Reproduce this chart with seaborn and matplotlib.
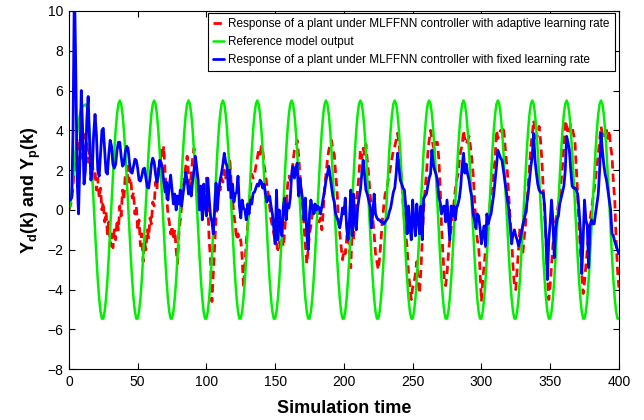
import numpy as np
import pandas as pd
import matplotlib
matplotlib.use("Agg")
import matplotlib.pyplot as plt
import seaborn as sns

# ---------------- data ----------------
time_steps = list(range(0, 401))

series_labels = [
    "Response of a plant under MLFFNN controller with adaptive learning rate",
    "Reference model output",
    "Response of a plant under MLFFNN controller with fixed learning rate",
]

x_ticks = [0, 50, 100, 150, 200, 250, 300, 350, 400]
y_ticks = [-8, -6, -4, -2, 0, 2, 4, 6, 8, 10]

reference_output = [
    0.0, 0.3, 0.9, 1.6, 2.4, 3.1, 3.8, 4.4, 4.8, 5.1, 5.2, 5.25, 5.3, 5.2,
    4.82, 4.01, 2.95, 1.70, 0.35, -1.03, -2.34, -3.51, -4.45, -5.11, -5.46, -5.46, -5.11, -4.45, -3.51, -2.34, -1.03, 0.35, 1.70, 2.95, 4.01, 4.82, 5.33,
    5.50, 5.33, 4.82, 4.01, 2.95, 1.70, 0.35, -1.03, -2.34, -3.51, -4.45, -5.11, -5.46, -5.46, -5.11, -4.45, -3.51, -2.34, -1.03, 0.35, 1.70, 2.95, 4.01, 4.82, 5.33,
    5.50, 5.33, 4.82, 4.01, 2.95, 1.70, 0.35, -1.03, -2.34, -3.51, -4.45, -5.11, -5.46, -5.46, -5.11, -4.45, -3.51, -2.34, -1.03, 0.35, 1.70, 2.95, 4.01, 4.82, 5.33,
    5.50, 5.33, 4.82, 4.01, 2.95, 1.70, 0.35, -1.03, -2.34, -3.51, -4.45, -5.11, -5.46, -5.46, -5.11, -4.45, -3.51, -2.34, -1.03, 0.35, 1.70, 2.95, 4.01, 4.82, 5.33,
    5.50, 5.33, 4.82, 4.01, 2.95, 1.70, 0.35, -1.03, -2.34, -3.51, -4.45, -5.11, -5.46, -5.46, -5.11, -4.45, -3.51, -2.34, -1.03, 0.35, 1.70, 2.95, 4.01, 4.82, 5.33,
    5.50, 5.33, 4.82, 4.01, 2.95, 1.70, 0.35, -1.03, -2.34, -3.51, -4.45, -5.11, -5.46, -5.46, -5.11, -4.45, -3.51, -2.34, -1.03, 0.35, 1.70, 2.95, 4.01, 4.82, 5.33,
    5.50, 5.33, 4.82, 4.01, 2.95, 1.70, 0.35, -1.03, -2.34, -3.51, -4.45, -5.11, -5.46, -5.46, -5.11, -4.45, -3.51, -2.34, -1.03, 0.35, 1.70, 2.95, 4.01, 4.82, 5.33,
    5.50, 5.33, 4.82, 4.01, 2.95, 1.70, 0.35, -1.03, -2.34, -3.51, -4.45, -5.11, -5.46, -5.46, -5.11, -4.45, -3.51, -2.34, -1.03, 0.35, 1.70, 2.95, 4.01, 4.82, 5.33,
    5.50, 5.33, 4.82, 4.01, 2.95, 1.70, 0.35, -1.03, -2.34, -3.51, -4.45, -5.11, -5.46, -5.46, -5.11, -4.45, -3.51, -2.34, -1.03, 0.35, 1.70, 2.95, 4.01, 4.82, 5.33,
    5.50, 5.33, 4.82, 4.01, 2.95, 1.70, 0.35, -1.03, -2.34, -3.51, -4.45, -5.11, -5.46, -5.46, -5.11, -4.45, -3.51, -2.34, -1.03, 0.35, 1.70, 2.95, 4.01, 4.82, 5.33,
    5.50, 5.33, 4.82, 4.01, 2.95, 1.70, 0.35, -1.03, -2.34, -3.51, -4.45, -5.11, -5.46, -5.46, -5.11, -4.45, -3.51, -2.34, -1.03, 0.35, 1.70, 2.95, 4.01, 4.82, 5.33,
    5.50, 5.33, 4.82, 4.01, 2.95, 1.70, 0.35, -1.03, -2.34, -3.51, -4.45, -5.11, -5.46, -5.46, -5.11, -4.45, -3.51, -2.34, -1.03, 0.35, 1.70, 2.95, 4.01, 4.82, 5.33,
    5.50, 5.33, 4.82, 4.01, 2.95, 1.70, 0.35, -1.03, -2.34, -3.51, -4.45, -5.11, -5.46, -5.46, -5.11, -4.45, -3.51, -2.34, -1.03, 0.35, 1.70, 2.95, 4.01, 4.82, 5.33,
    5.50, 5.33, 4.82, 4.01, 2.95, 1.70, 0.35, -1.03, -2.34, -3.51, -4.45, -5.11, -5.46, -5.46, -5.11, -4.45, -3.51, -2.34, -1.03, 0.35, 1.70, 2.95, 4.01, 4.82, 5.33,
    5.50, 5.33, 4.82, 4.01, 2.95, 1.70, 0.35, -1.03, -2.34, -3.51, -4.45, -5.11, -5.46, -5.46, -5.11, -4.45, -3.51, -2.34, -1.03, 0.35, 1.70, 2.95, 4.01, 4.82, 5.33,
    5.50, 5.33, 4.82, 4.01, 2.95, 1.70, 0.35, -1.03, -2.34, -3.51, -4.45, -5.11, -5.46, -5.46,
]

adaptive_response = [
    0.0, 0.2, 0.5, 1.2, 2.2, 2.8, 2.3, 3.0, 3.6, 2.6,          # 0-9
    3.4, 3.8, 2.8, 3.5, 2.4, 3.0, 1.8, 2.4, 1.6, 2.0,          # 10-19
    1.0, 1.6, 0.6, 1.1, 0.0, 0.4, -0.6, -0.1, -1.2, -0.6,      # 20-29
    -1.8, -1.2, -1.9, -1.0, -1.5, -0.5, -1.0, 0.2, -0.3, 1.0,  # 30-39
    0.5, 1.8, 1.2, 2.2, 1.4, 1.6, 0.6, 0.9, -0.2, 0.2,         # 40-49
    -1.0, -0.5, -1.8, -1.2, -2.6, -1.6, -2.0, -1.0, -1.4, -0.4,  # 50-59
    -0.7, 0.4, 0.2, 1.4, 1.0, 2.2, 1.8, 3.0, 2.6, 3.2,         # 60-69
    1.8, 0.8, -0.2, -0.6, -1.2, -0.8, -1.5, -1.0, -2.0, -2.7,  # 70-79
    -1.2, -0.5, 0.2, 1.0, 1.6, 2.2, 2.7, 1.8, 1.2, 1.8,        # 80-89
    2.6, 3.1, 2.4, 1.5, 1.0, 0.4, 0.8, 0.2, 0.6, 1.2,          # 90-99
    1.6, 0.4, -1.5, -2.5, -4.6, -3.2, -1.8, -0.4, 0.5, 1.2,    # 100-109
    1.0, 1.6, 1.4, 2.0, 1.6, 2.2, 1.8, 2.6, 1.4, 0.5,          # 110-119
    -0.2, -0.8, -1.5, -1.2, -1.6, -1.5, -2.4, -3.9, -2.8, -1.6,  # 120-129
    -0.8, 0.2, 1.0, 1.8, 1.6, 1.8, 2.2, 2.6, 3.0, 2.8,         # 130-139
    3.2, 3.0, 2.2, 1.8, 1.2, 0.8, 0.2, -0.5, -0.8, -1.2,       # 140-149
    -1.5, -1.7, -2.0, -1.6, -1.9, -1.5, -1.85, -1.0, 0.0, 1.2,  # 150-159
    1.7, 1.5, 1.8, 2.4, 3.0, 3.2, 3.5, 2.8, 1.8, 1.0,          # 160-169
    0.2, -0.8, -1.8, -2.7, -2.0, -1.2, -0.8, -0.2, 0.2, -0.3,  # 170-179
    0.0, -0.2, -0.6, -0.4, -1.0, 0.0, 1.2, 1.8, 2.5, 3.0,      # 180-189
    3.3, 3.5, 3.0, 2.8, 1.8, 1.0, -0.5, -1.2, -1.85, -2.5,     # 190-199
    -2.0, -2.2, -1.5, -0.5, -2.0, -2.9, -1.0, -1.5, -0.2, 0.5,  # 200-209
    1.0, 1.8, 3.0, 2.6, 3.1, 2.8, 3.3, 2.5, 1.8, 0.8,          # 210-219
    0.2, -0.4, -1.2, -2.2, -2.6, -3.0, -2.4, -1.5, -0.5, 0.2,  # 220-229
    0.8, 1.0, 1.4, 1.8, 2.2, 2.6, 3.0, 3.2, 3.5, 3.85,         # 230-239
    3.4, 2.6, 1.5, 0.4, -0.5, -1.2, -1.9, -3.2, -3.8, -4.5,    # 240-249
    -3.9, -3.7, -3.2, -2.6, -3.6, -4.2, -3.0, -1.5, 0.0, 1.0,  # 250-259
    1.8, 2.8, 3.5, 4.0, 3.6, 3.2, 3.0, 3.4, 3.4, 2.6,          # 260-269
    1.2, -0.8, -2.2, -3.5, -3.8, -3.2, -2.2, -1.5, -0.9, -0.2,  # 270-279
    0.3, 1.0, 1.5, 1.8, 2.5, 3.0, 3.2, 4.0, 3.5, 3.3,          # 280-289
    3.5, 3.7, 3.2, 2.6, 1.8, 0.6, -0.8, -1.5, -1.85, -3.0,     # 290-299
    -4.6, -3.5, -2.8, -2.0, -1.5, -0.8, 0.0, 0.8, 1.4, 2.0,    # 300-309
    2.5, 4.0, 3.6, 3.8, 4.0, 3.9, 4.2, 3.4, 2.6, 1.8,          # 310-319
    0.6, -0.5, -1.5, -2.8, -3.8, -4.0, -3.0, -2.0, -0.9, -1.6,  # 320-329
    -2.3, -1.5, -0.8, 0.2, 1.2, 2.2, 3.2, 3.8, 4.5, 4.0,       # 330-339
    3.6, 3.8, 4.2, 3.5, 2.5, 1.0, -0.2, -1.5, -3.2, -4.5,      # 340-349
    -3.8, -2.8, -1.8, -1.0, -0.6, -0.2, 0.3, 0.8, 1.5, 2.2,    # 350-359
    3.3, 4.5, 4.2, 3.8, 4.0, 4.3, 4.2, 3.8, 3.5, 2.2,          # 360-369
    0.8, -0.8, -2.0, -3.2, -4.2, -3.6, -2.8, -2.0, -1.2, -0.5,  # 370-379
    0.0, 0.5, 1.0, 1.6, 2.2, 2.8, 3.5, 4.2, 3.8, 3.6,          # 380-389
    3.8, 4.0, 3.6, 4.0, 3.2, 2.7, 1.4, 0.5, -1.5, -3.0,        # 390-399
    -3.9,                                                      # 400
]

fixed_response = [
    0.5, 0.5, 0.6, 4.0, 11.5, 7.0, 1.5, -0.2, 2.5, 6.0,        # 0-9
    4.0, 1.3, 2.0, 4.5, 5.7, 3.5, 1.5, 2.0, 3.8, 4.8,          # 10-19
    3.8, 2.0, 1.7, 2.8, 4.0, 4.1, 3.0, 1.9, 1.8, 2.8,          # 20-29
    3.5, 3.2, 2.3, 2.1, 2.3, 3.0, 3.4, 3.4, 2.7, 2.2,          # 30-39
    2.3, 2.9, 3.2, 3.1, 2.4, 1.9, 1.85, 2.2, 2.55, 2.5,        # 40-49
    2.1, 1.5, 1.45, 1.7, 2.05, 2.1, 1.6, 1.15, 1.1, 1.6,       # 50-59
    2.3, 2.6, 2.4, 1.8, 1.4, 1.7, 2.5, 2.4, 2.1, 1.4,          # 60-69
    0.9, 1.4, 0.5, 1.2, 1.75, 1.0, 0.3, 0.8, 0.0, 0.7,         # 70-79
    0.3, 1.0, 0.2, 0.8, 1.3, 1.9, 1.5, 0.8, 1.2, 0.7,          # 80-89
    1.5, 2.0, 2.7, 2.1, 1.5, 0.0, 1.2, -0.5, 1.3, 0.2,         # 90-99
    -0.3, 1.6, 0.6, -0.3, -0.6, -1.2, 0.0, 1.35, 0.0, 1.0,     # 100-109
    1.5, 1.85, 2.3, 2.85, 2.4, 2.2, 1.0, 2.0, 0.6, 1.3,        # 110-119
    0.4, 0.8, 0.9, 1.7, 0.2, -0.4, 0.5, 0.1, 0.0, -0.5,        # 120-129
    0.3, -0.2, 0.5, 0.3, 0.85, 0.9, 1.1, 1.3, 1.2, 1.5,        # 130-139
    1.4, 1.1, 1.3, 0.8, 0.4, 0.6, 0.7, 0.2, -0.2, -0.9,        # 140-149
    -1.7, 1.0, -1.5, 0.0, -1.0, -1.3, 0.2, 0.6, -0.5, 0.3,     # 150-159
    0.1, 0.6, 1.8, 2.2, 1.6, 2.0, 2.35, 0.7, 1.6, 1.0,         # 160-169
    0.5, -0.5, 0.6, -1.2, -2.0, -0.2, 0.5, 0.1, -0.2, 0.3,     # 170-179
    0.0, 0.2, 0.1, -0.2, 0.2, 0.6, 1.0, 1.5, 1.8, 2.2,         # 180-189
    1.7, 1.2, 0.67, 0.4, -0.2, -0.4, -0.6, -0.9, -0.5, 0.1,    # 190-199
    -0.2, 0.6, -0.9, -1.5, -0.6, 1.0, -1.3, 0.8, -0.6, -1.0,   # 200-209
    0.1, 0.6, 1.0, 1.8, 2.5, 1.8, 1.0, 0.8, 0.5, 0.2,          # 210-219
    -0.9, -0.2, 0.8, -0.2, -0.4, -0.5, -0.5, -0.6, -0.6, -0.7,  # 220-229
    -0.6, -0.5, -0.4, -0.1, 0.1, 0.5, 0.9, 1.1, 1.8, 2.85,     # 230-239
    2.2, 1.5, 1.3, 1.1, 1.0, 0.2, -1.2, 0.2, -0.8, -1.5,       # 240-249
    0.5, -0.6, -1.3, 0.3, -0.5, -1.2, 0.2, -1.5, 0.6, 0.7,     # 250-259
    0.8, 1.2, 1.6, 1.8, 3.0, 2.3, 2.0, 1.8, 1.5, 0.67,         # 260-269
    0.4, -0.2, 0.15, 0.2, -0.6, 0.5, -0.5, -1.5, 0.2, -0.3,    # 270-279
    0.2, -0.5, 0.1, 0.3, 0.6, 1.2, 2.2, 2.85, 1.85, 2.3,       # 280-289
    1.8, 1.5, 1.0, 0.67, -0.2, -0.5, -0.9, -0.2, -0.3, -0.9,   # 290-299
    -1.7, -1.2, -0.8, -1.8, -0.2, -0.7, -0.4, -0.2, 0.3, 0.8,  # 300-309
    1.5, 2.2, 3.0, 2.8, 2.6, 2.5, 2.0, 1.5, 1.0, 0.5,          # 310-319
    0.0, -0.9, -1.7, -1.2, -1.0, -1.3, -1.5, -1.8, -1.6, -1.2,  # 320-329
    -0.8, -0.5, -0.2, 0.3, 0.8, 1.5, 2.2, 2.7, 3.85, 2.5,      # 330-339
    1.85, 1.3, 1.0, 0.9, 0.85, 0.85, 0.2, -1.5, -3.5, -1.5,    # 340-349
    -0.7, 0.5, -0.5, -2.4, -1.0, -0.5, -0.3, 0.3, 0.6, 0.9,    # 350-359
    1.2, 2.0, 3.7, 3.4, 3.0, 2.0, 1.2, 1.1, 1.1, 1.0,          # 360-369
    0.8, 0.0, -1.0, -3.2, -1.5, 0.5, -0.5, -0.8, -2.9, -0.8,   # 370-379
    -0.5, -0.7, -0.7, -0.2, 0.3, 0.8, 2.0, 3.85, 3.0, 2.3,     # 380-389
    1.8, 1.5, 1.0, 0.5, 0.0, -1.2, -1.3, -1.6, -1.8, -2.0,     # 390-399
    -2.2,                                                      # 400
]

# ---------------- styling ----------------
sns.set_theme(style="white")
plt.rcParams["font.family"] = ["Liberation Sans", "DejaVu Sans"]
plt.rcParams["mathtext.fontset"] = "custom"
plt.rcParams["mathtext.rm"] = "Liberation Sans:bold"
plt.rcParams["mathtext.it"] = "Liberation Sans:bold"
plt.rcParams["mathtext.bf"] = "Liberation Sans:bold"
plt.rcParams["axes.unicode_minus"] = True
plt.rcParams["text.color"] = "black"
plt.rcParams["axes.labelcolor"] = "black"
plt.rcParams["xtick.color"] = "black"
plt.rcParams["ytick.color"] = "black"

df = pd.DataFrame({
    "time": time_steps,
    "adaptive": adaptive_response,
    "reference": reference_output,
    "fixed": fixed_response,
})

fig, ax = plt.subplots(figsize=(6.44, 4.2), dpi=100)
fig.patch.set_facecolor("white")
fig.subplots_adjust(left=0.107, right=0.961, top=0.974, bottom=0.121)

sns.lineplot(data=df, x="time", y="adaptive", ax=ax, color="#ff0000",
             lw=2.0, linestyle="--", label=series_labels[0])
sns.lineplot(data=df, x="time", y="reference", ax=ax, color="#00f000",
             lw=1.8, label=series_labels[1])
sns.lineplot(data=df, x="time", y="fixed", ax=ax, color="#0000ff",
             lw=2.0, label=series_labels[2])
ax.lines[0].set_dashes([3.0, 1.8])

ax.set_xlim(0, 400)
ax.set_ylim(-8, 10)
ax.set_xticks(x_ticks)
ax.set_yticks(y_ticks)

ax.set_facecolor("white")
for sp in ax.spines.values():
    sp.set_visible(True)
    sp.set_color("black")
    sp.set_linewidth(0.8)

ax.tick_params(axis="both", which="both", direction="in", length=4, width=0.8,
               bottom=True, left=True, top=True, right=True,
               labelsize=10, colors="black", labelcolor="black", pad=4)

ax.set_xlabel("Simulation time", fontsize=13, fontweight="bold", labelpad=8,
              color="black")
ax.set_ylabel("Y$_d$(k) and Y$_p$(k)", fontsize=13, fontweight="bold",
              labelpad=3, color="black")

leg = ax.legend(loc="upper right", bbox_to_anchor=(0.993, 0.995), fontsize=8.5,
                frameon=True, fancybox=False, framealpha=1, edgecolor="black",
                handlelength=0.9, handletextpad=0.4, labelspacing=0.5,
                borderpad=0.45, borderaxespad=0.0)
leg.get_frame().set_linewidth(0.8)
for t in leg.get_texts():
    t.set_color("black")

fig.savefig("out.png", dpi=100, facecolor="white")
